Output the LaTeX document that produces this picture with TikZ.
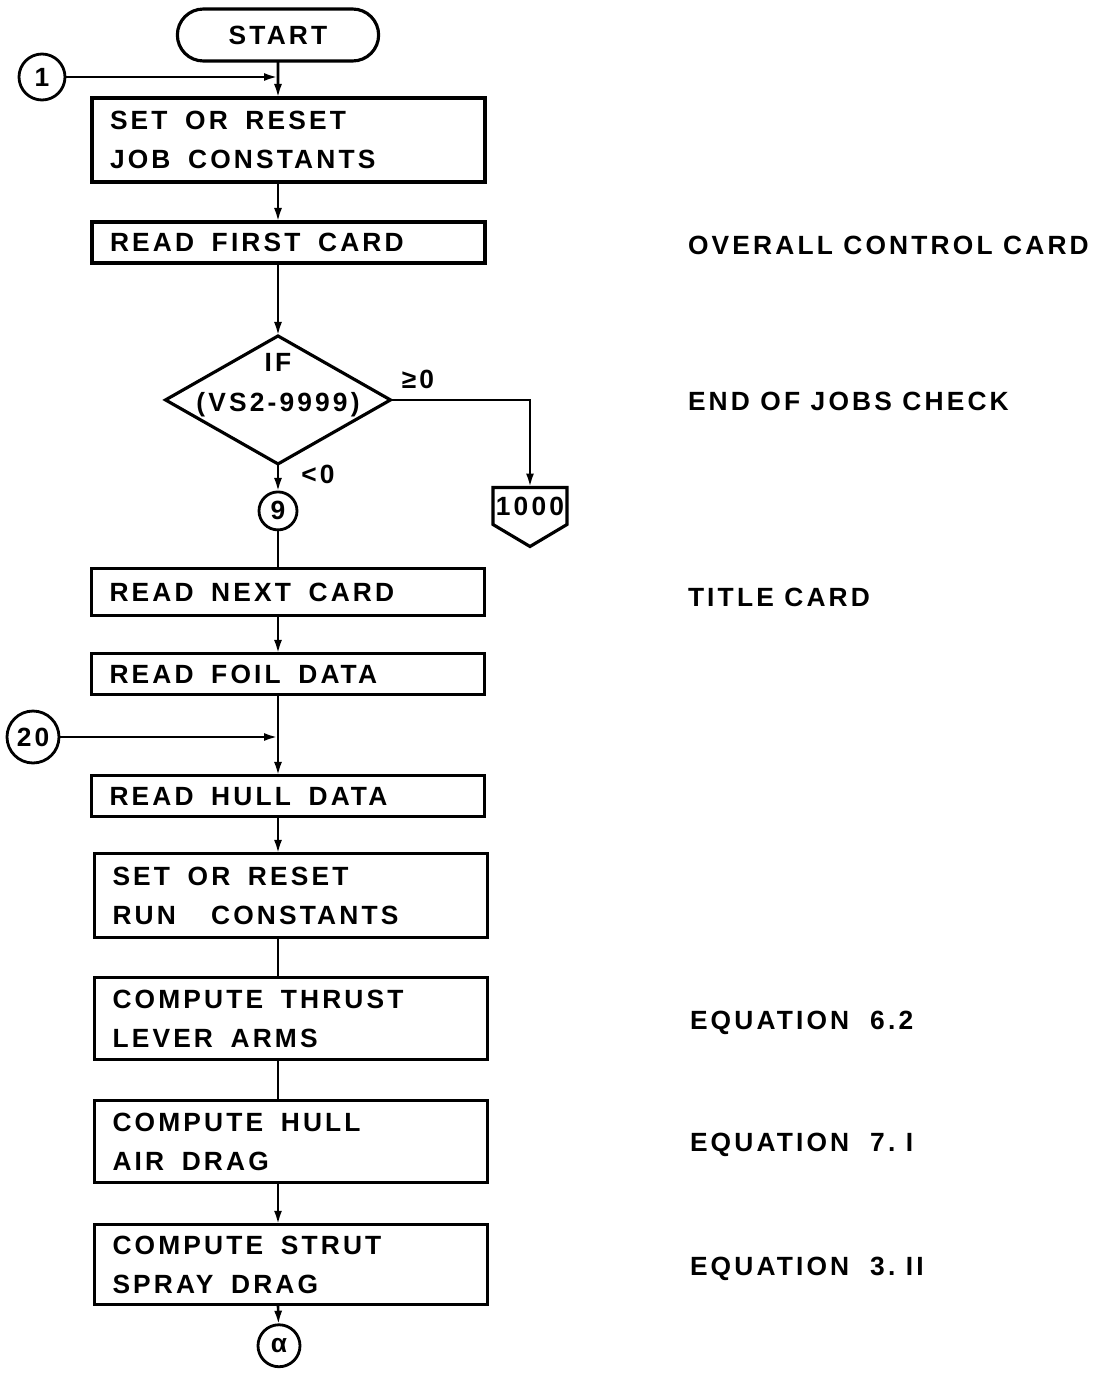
\documentclass[tikz,border=0pt]{standalone}
\usepackage{fontspec}
\setmainfont{Liberation Sans}[LetterSpace=12]
\usepackage{tikz}
\usetikzlibrary{shapes.geometric,shapes.misc,arrows.meta,positioning}

\begin{document}
\begin{tikzpicture}[
  x=0.02cm, y=-0.02cm,
  font=\fontsize{15}{22.5}\selectfont\bfseries,
  every node/.style={outer sep=0pt},
  term/.style={rounded rectangle, draw, line width=1.8pt, minimum width=4.26cm, minimum height=1.04cm},
  proc/.style={rectangle, draw, line width=1.8pt, minimum width=7.86cm, minimum height=0.82cm,
    text width=7.14cm, align=left, inner xsep=0.36cm},
  proc2/.style={proc, minimum height=1.68cm},
  conn/.style={circle, draw, line width=1.6pt, inner sep=0pt, minimum size=0.84cm},
  decision/.style={diamond, draw, line width=1.8pt, inner sep=0pt, minimum width=4.5cm, minimum height=2.56cm},
  note/.style={anchor=west, inner xsep=0pt},
  arr/.style={-{Latex[length=2.8mm,width=1.6mm]}, line width=1.5pt},
  link/.style={line width=1.5pt}
]
\useasboundingbox (0,0) rectangle (1103,1376);

\node[term] (start) at (278,35) {START};
\node[proc2, below=0.74cm of start, xshift=0.21cm] (jobc) {SET~ OR~ RESET\\ JOB~ CONSTANTS};
\node[proc, below=0.8cm of jobc] (first) {READ~ FIRST~ CARD};
\node[decision, below=1.46cm of first, xshift=-0.21cm,
  label={[align=center, yshift=0.3cm]center:IF\\(VS2-9999)}] (ifvs) {};
\node[conn, minimum size=0.76cm, below=0.56cm of ifvs] (c9) {9};
\node[proc, minimum height=0.94cm, below=0.78cm of c9, xshift=0.2cm] (nextc) {READ~ NEXT~ CARD};
\node[proc, below=0.76cm of nextc] (foil) {READ~ FOIL~ DATA};
\node[proc, below=1.62cm of foil] (hull) {READ~ HULL~ DATA};
\node[proc2, below=0.74cm of hull, xshift=0.06cm] (runc) {SET~ OR~ RESET\\RUN~~~ CONSTANTS};
\node[proc2, minimum height=1.64cm, below=0.8cm of runc] (thrust) {COMPUTE~ THRUST\\LEVER~ ARMS};
\node[proc2, minimum height=1.64cm, below=0.82cm of thrust] (airdrag) {COMPUTE~ HULL\\AIR~ DRAG};
\node[proc2, minimum height=1.6cm, below=0.84cm of airdrag] (spray) {COMPUTE~ STRUT\\SPRAY~ DRAG};
\node[conn, below=0.4cm of spray, xshift=-0.24cm] (calpha) {α};

% entry connectors
\node[conn, minimum size=0.92cm] (c1) at (42,77) {1};
\coordinate (j1) at (c1 -| start);
\node[conn, minimum size=1.04cm] (c20) at (33,737) {20};
\coordinate (j20) at (c20 -| start);

% exit to 1000
\node[inner sep=0pt, minimum width=1.48cm, minimum height=0.74cm] (k1000) at (530,506) {1000};
\draw[line width=1.8pt] (k1000.north west) -- (k1000.north east) -- (k1000.south east)
  -- ([yshift=-0.44cm]k1000.south) -- (k1000.south west) -- cycle;

\node (ge0) at (418,379) {≥0};
\node (lt0) at (318,474) {<0};

% comments on the right
\node[note] (n1) at (688,245) {OVERALL CONTROL CARD};
\node[note] (n2) at (688,401) {END OF JOBS CHECK};
\node[note] (n3) at (688,597) {TITLE CARD};
\node[note] (n4) at (690,1023) {EQUATION~ 6.2};
\node[note] (n5) at (690,1145) {EQUATION~ 7.~I};
\node[note] (n6) at (690,1269) {EQUATION~ 3.~II};

\draw[arr] (c1) -- (j1);
\draw[arr] (start) -- (start |- jobc.north);
\draw[arr] (start |- jobc.south) -- (start |- first.north);
\draw[arr] (start |- first.south) -- (ifvs.north);
\draw[arr] (ifvs.south) -- (c9);
\draw[arr] (ifvs.east) -| (k1000.north);
\draw[link] (c9) -- (start |- nextc.north);
\draw[arr] (start |- nextc.south) -- (start |- foil.north);
\draw[arr] (start |- foil.south) -- (start |- hull.north);
\draw[arr] (c20) -- (j20);
\draw[arr] (start |- hull.south) -- (start |- runc.north);
\draw[link] (start |- runc.south) -- (start |- thrust.north);
\draw[link] (start |- thrust.south) -- (start |- airdrag.north);
\draw[arr] (start |- airdrag.south) -- (start |- spray.north);
\draw[arr] (start |- spray.south) -- (calpha);
\end{tikzpicture}
\end{document}
